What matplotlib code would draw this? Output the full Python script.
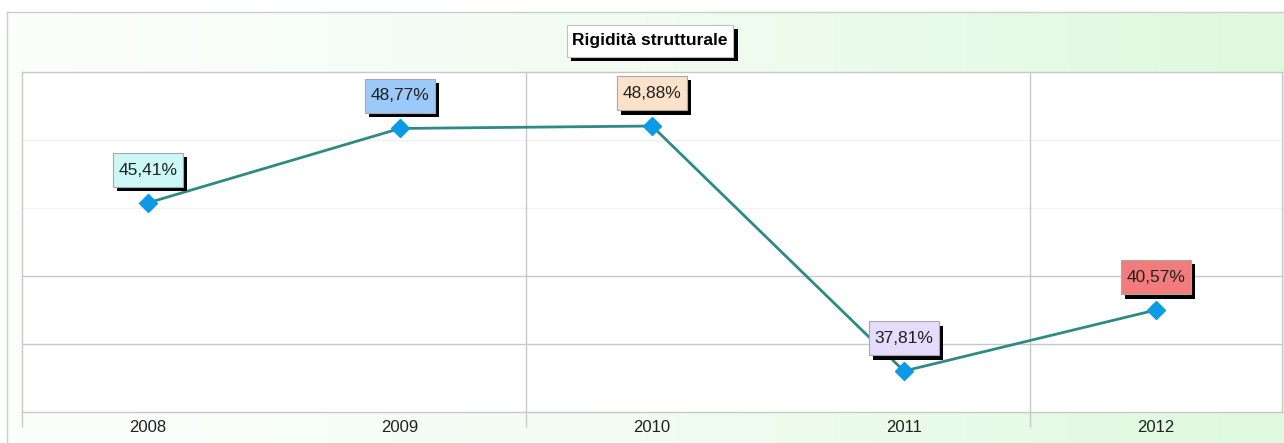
import numpy as np
import matplotlib
matplotlib.use('Agg')
import matplotlib.pyplot as plt
import matplotlib.patheffects as pe
from matplotlib.path import Path

plt.rcParams['font.family'] = ['Liberation Sans', 'DejaVu Sans']

years = ['2008', '2009', '2010', '2011', '2012']
values = [45.41, 48.77, 48.88, 37.81, 40.57]
box_colors = ['#CCF8F8', '#9CCAF8', '#FCE2CA', '#E4DCFA', '#F27C7C']
title = 'Rigidità strutturale'


def make_box(padx, pady):
    # rectangle with separate horizontal / vertical padding
    def box(x0, y0, width, height, mutation_size):
        px = padx * mutation_size
        py = pady * mutation_size
        pts = [(x0 - px, y0 - py), (x0 + width + px, y0 - py),
               (x0 + width + px, y0 + height + py), (x0 - px, y0 + height + py),
               (x0 - px, y0 - py)]
        return Path(pts, closed=True)
    return box


W, H = 1284, 443
fig = plt.figure(figsize=(W / 100, H / 100), dpi=100)
fig.patch.set_facecolor('white')

# green gradient panel behind everything
bg = fig.add_axes([7 / W, 0, 1 - 7 / W, (H - 12) / H], zorder=0)
grad = np.linspace(0, 1, 256).reshape(1, -1)
cmap = matplotlib.colors.LinearSegmentedColormap.from_list('g', ['#FCFEFC', '#F2FCF2', '#DEF9DE'])
bg.imshow(grad, aspect='auto', cmap=cmap, extent=[0, 1, 0, 1])
bg.set_xticks([])
bg.set_yticks([])
for s in ['right', 'bottom']:
    bg.spines[s].set_visible(False)
for s in ['left', 'top']:
    bg.spines[s].set_color('#C8D0C8')
    bg.spines[s].set_linewidth(1)

ax = fig.add_axes([22 / W, 31 / H, 1260 / W, 340 / H], zorder=1)
ax.set_facecolor('white')
x = np.arange(len(years))
ymin, ymax = 35.96, 51.32
ax.set_xlim(-0.5, 4.5)
ax.set_ylim(ymin, ymax)

# horizontal grid (upper lines very faint)
gy = np.linspace(ymin, ymax, 6)[1:-1]
for i, g in enumerate(gy):
    ax.axhline(g, color='#C8C8C8' if i < 2 else '#F2F2F2', lw=1, zorder=1)
for gx in [1.5, 3.5]:
    ax.axvline(gx, color='#C8C8C8', lw=1, zorder=1)

for s in ax.spines.values():
    s.set_color('#C8C8C8')
    s.set_linewidth(1)

ax.set_yticks([])
ax.set_xticks(x)
ax.set_xticklabels(years, fontsize=12, color='#202020')
ax.tick_params(axis='x', which='major', length=0, pad=6)
ax.set_xticks([-0.5, 1.5, 3.5], minor=True)
ax.tick_params(axis='x', which='minor', length=11, color='#C8C8C8', width=1)

ax.plot(x, values, color='#2E8A87', lw=2.0, zorder=3,
        marker='D', markersize=9.5, markerfacecolor='#0A9AE6', markeredgecolor='#0A9AE6')

for xi, v, c in zip(x, values, box_colors):
    lab = f'{v:.2f}'.replace('.', ',') + '%'
    t = ax.annotate(lab, (xi, v), xytext=(0, 23.5), textcoords='offset points',
                    ha='center', va='center', fontsize=12.5, color='#202020', zorder=5,
                    bbox=dict(boxstyle=make_box(0.33, 0.55), fc=c, ec='#A8A8A8', lw=0.8))
    t.get_bbox_patch().set_path_effects([
        pe.SimplePatchShadow(offset=(3, -3), shadow_rgbFace='black', alpha=1), pe.Normal()])

tt = fig.text(650 / W, 1 - 41 / H, title, ha='center', va='center', fontsize=12.5,
              fontweight='bold', color='black', zorder=5,
              bbox=dict(boxstyle=make_box(0.33, 0.5), fc='white', ec='#C0C0C0', lw=0.8))
tt.get_bbox_patch().set_path_effects([
    pe.SimplePatchShadow(offset=(3, -3), shadow_rgbFace='black', alpha=1), pe.Normal()])

fig.savefig('out.png', dpi=100)
